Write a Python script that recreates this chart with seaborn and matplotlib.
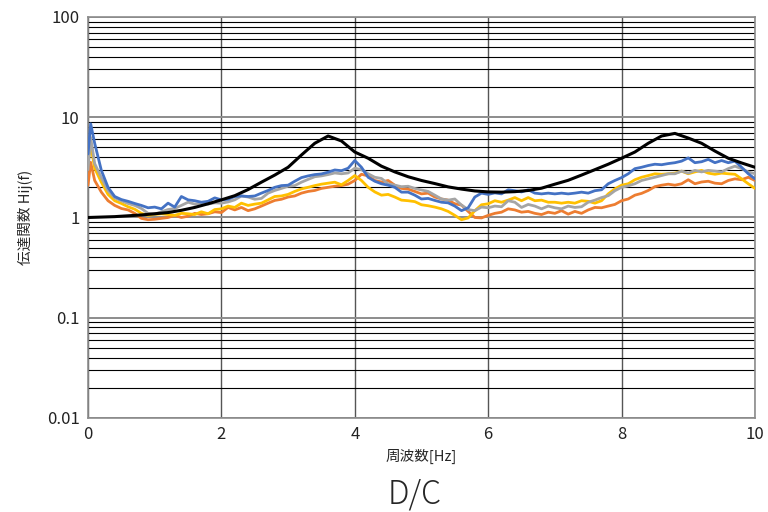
import numpy as np
import pandas as pd
import matplotlib
matplotlib.use("Agg")
import matplotlib.pyplot as plt
from matplotlib.ticker import LogLocator, FixedLocator, FixedFormatter, NullFormatter
import seaborn as sns

sns.set_style("white")
plt.rcParams['font.family'] = ['Noto Sans CJK JP', 'DejaVu Sans']

# frequency grid of the measured curves [Hz]
freq = [0.0, 0.04] + list(np.round(np.arange(0.1, 10.01, 0.1), 1))

blue = [4.3, 8.6, 5.5, 2.95, 2.0, 1.62, 1.51, 1.45, 1.38, 1.32, 1.25, 1.27, 1.22, 1.39, 1.27, 1.62, 1.5, 1.47, 1.42, 1.45, 1.57, 1.5,
        1.52, 1.62, 1.64, 1.62, 1.64, 1.75, 1.86, 2.0, 2.08, 2.1, 2.3, 2.5, 2.6, 2.68, 2.72, 2.83, 2.98, 2.93, 3.1, 3.7,
        3.17, 2.52, 2.3, 2.17, 2.1, 2.0, 1.79, 1.79, 1.67, 1.53, 1.55, 1.48, 1.42, 1.4, 1.3, 1.17, 1.25, 1.6, 1.75, 1.7,
        1.76, 1.72, 1.89, 1.85, 1.8, 1.89, 1.75, 1.72, 1.75, 1.72, 1.75, 1.72, 1.75, 1.79, 1.75, 1.85, 1.89, 2.17, 2.34, 2.5,
        2.73, 3.07, 3.17, 3.3, 3.4, 3.36, 3.45, 3.52, 3.65, 3.93, 3.52, 3.6, 3.8, 3.52, 3.7, 3.52, 3.65, 3.17, 2.73, 2.43]

gray = [3.0, 6.3, 3.45, 2.5, 1.86, 1.57, 1.47, 1.38, 1.32, 1.23, 1.1, 1.08, 1.14, 1.2, 1.23, 1.32, 1.42, 1.36, 1.39, 1.36, 1.4, 1.39,
        1.43, 1.5, 1.64, 1.6, 1.52, 1.55, 1.75, 1.86, 1.95, 2.05, 2.08, 2.25, 2.4, 2.55, 2.6, 2.68, 2.78, 2.73, 2.78, 3.1,
        3.0, 2.73, 2.52, 2.45, 2.17, 2.1, 2.03, 2.05, 1.95, 1.88, 1.82, 1.67, 1.53, 1.49, 1.53, 1.33, 1.2, 1.17, 1.27, 1.25,
        1.3, 1.28, 1.47, 1.42, 1.26, 1.35, 1.3, 1.22, 1.3, 1.25, 1.22, 1.3, 1.26, 1.28, 1.42, 1.49, 1.58, 1.65, 1.85, 2.0,
        2.07, 2.17, 2.34, 2.43, 2.52, 2.62, 2.73, 2.73, 2.9, 2.77, 2.95, 2.85, 2.95, 2.9, 2.85, 3.07, 3.25, 3.07, 2.85, 2.73]

yellow = [3.5, 5.3, 3.1, 2.25, 1.7, 1.47, 1.38, 1.28, 1.21, 1.1, 1.05, 1.07, 1.09, 1.07, 1.05, 1.1, 1.09, 1.07, 1.14, 1.09, 1.2, 1.22,
          1.3, 1.26, 1.39, 1.32, 1.36, 1.39, 1.5, 1.62, 1.64, 1.7, 1.82, 1.93, 2.0, 2.08, 2.15, 2.2, 2.25, 2.12, 2.34, 2.62,
          2.34, 2.0, 1.8, 1.67, 1.7, 1.6, 1.49, 1.47, 1.44, 1.34, 1.31, 1.27, 1.22, 1.15, 1.05, 0.95, 0.99, 1.17, 1.34, 1.37,
          1.47, 1.42, 1.49, 1.58, 1.47, 1.58, 1.47, 1.49, 1.42, 1.42, 1.39, 1.42, 1.39, 1.47, 1.45, 1.39, 1.47, 1.72, 1.93, 2.1,
          2.17, 2.38, 2.52, 2.62, 2.73, 2.7, 2.73, 2.77, 2.9, 2.73, 2.85, 2.95, 2.77, 2.7, 2.77, 2.73, 2.7, 2.43, 2.17, 1.95]

orange = [2.1, 3.55, 2.34, 1.79, 1.47, 1.32, 1.23, 1.19, 1.1, 0.98, 0.95, 0.96, 0.98, 1.0, 1.05, 1.0, 1.03, 1.1, 1.07, 1.09, 1.14, 1.12,
          1.26, 1.19, 1.26, 1.17, 1.22, 1.3, 1.39, 1.48, 1.52, 1.6, 1.64, 1.75, 1.82, 1.86, 1.95, 2.0, 2.05, 2.08, 2.15, 2.34,
          2.7, 2.6, 2.34, 2.26, 2.34, 2.1, 1.95, 1.92, 1.82, 1.72, 1.75, 1.6, 1.53, 1.49, 1.37, 1.33, 1.15, 1.0, 0.99, 1.05,
          1.1, 1.13, 1.22, 1.19, 1.13, 1.15, 1.1, 1.07, 1.13, 1.1, 1.17, 1.08, 1.15, 1.1, 1.19, 1.26, 1.25, 1.3, 1.35, 1.47,
          1.53, 1.67, 1.74, 1.86, 2.03, 2.1, 2.15, 2.1, 2.17, 2.38, 2.17, 2.26, 2.3, 2.2, 2.17, 2.34, 2.43, 2.38, 2.52, 2.34]

# theoretical transfer function
freq_model = list(np.round(np.arange(0.0, 10.01, 0.2), 1))
model = [1.0, 1.01, 1.02, 1.04, 1.06, 1.09, 1.12, 1.18, 1.26, 1.37, 1.5, 1.65, 1.9, 2.25, 2.65, 3.17, 4.2, 5.5, 6.5, 5.8,
         4.5, 3.9, 3.25, 2.85, 2.55, 2.34, 2.18, 2.02, 1.92, 1.84, 1.8, 1.79, 1.81, 1.86, 1.96, 2.15, 2.35, 2.65, 3.0, 3.4,
         3.9, 4.5, 5.5, 6.5, 6.9, 6.2, 5.5, 4.6, 3.9, 3.5, 3.17]

series = {"orange": (orange, "#ED7D31"), "yellow": (yellow, "#FFC000"),
          "gray": (gray, "#A5A5A5"), "blue": (blue, "#4472C4")}

fig = plt.figure(figsize=(7.68, 5.12), dpi=100)
ax = fig.add_axes([0.1146, 0.1836, 0.8684, 0.7832])

for name, (vals, col) in series.items():
    df = pd.DataFrame({"f": freq, "H": vals})
    sns.lineplot(data=df, x="f", y="H", color=col, lw=2.0, sort=False, ax=ax, zorder=3)

dm = pd.DataFrame({"f": freq_model, "H": model})
sns.lineplot(data=dm, x="f", y="H", color="black", lw=2.2, sort=False, ax=ax, zorder=4)

ax.set_yscale("log")
ax.set_xlim(0, 10)
ax.set_ylim(0.01, 100)
ax.xaxis.set_major_locator(FixedLocator([0, 2, 4, 6, 8, 10]))
ax.yaxis.set_major_locator(FixedLocator([0.01, 0.1, 1, 10, 100]))
ax.yaxis.set_major_formatter(FixedFormatter(["0.01", "0.1", "1", "10", "100"]))
ax.yaxis.set_minor_locator(LogLocator(base=10, subs=np.arange(2, 10)))
ax.yaxis.set_minor_formatter(NullFormatter())
ax.grid(which="minor", axis="y", color="black", lw=0.8)
ax.grid(which="major", axis="y", color="#8c8c8c", lw=1.4)
ax.grid(which="major", axis="x", color="#555555", lw=1.0)
ax.tick_params(which="both", length=0, labelsize=12, colors="#222222", pad=6)
for s in ax.spines.values():
    s.set_color("#8c8c8c")
    s.set_linewidth(1.2)

ax.set_xlabel("周波数[Hz]", fontsize=10.5, labelpad=4)
ax.set_ylabel("伝達関数 Hij(f)", fontsize=10.5, labelpad=10)
fig.text(0.54, 0.035, "D/C", fontsize=23, ha="center", va="center", fontweight="light")

fig.savefig("out.png", dpi=100)
